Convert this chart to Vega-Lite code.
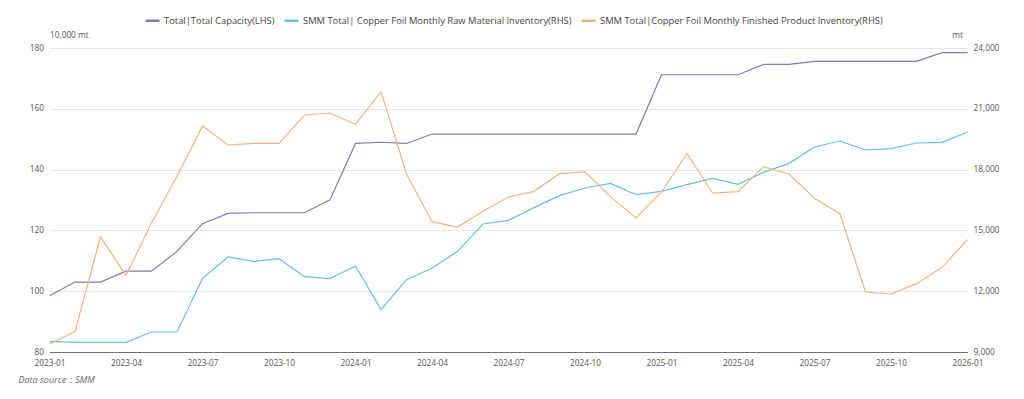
{
  "$schema": "https://vega.github.io/schema/vega-lite/v6.json",
  "autosize": {"type": "none"},
  "width": 918,
  "height": 304,
  "padding": {"left": 49.5, "top": 48, "right": 56.5, "bottom": 47},
  "background": "white",
  "title": {"text": "Data source：SMM", "orient": "bottom", "anchor": "start", "frame": "group", "dx": -31, "offset": 10, "fontSize": 9, "font": "Open Sans", "fontStyle": "italic", "fontWeight": "normal", "color": "#666666"},
  "config": {
    "view": {"stroke": null},
    "font": "Open Sans",
    "axis": {"labelFont": "Open Sans", "labelFontSize": 8.3, "labelColor": "#555555", "titleFont": "Open Sans", "titleFontSize": 8.3, "titleFontWeight": "normal", "titleColor": "#555555"},
    "legend": {"labelFont": "Open Sans", "labelFontSize": 9.4, "labelColor": "#444444", "labelLimit": 1000}
  },
  "data": {"values": [
    {"m":"2023-01","cap":98.5,"raw":9527,"fin":9395},
    {"m":"2023-02","cap":103.0,"raw":9477,"fin":10004},
    {"m":"2023-03","cap":103.0,"raw":9477,"fin":14675},
    {"m":"2023-04","cap":106.6,"raw":9477,"fin":12783},
    {"m":"2023-05","cap":106.6,"raw":9987,"fin":15365},
    {"m":"2023-06","cap":113.1,"raw":9987,"fin":17668},
    {"m":"2023-07","cap":122.2,"raw":12635,"fin":20151},
    {"m":"2023-08","cap":125.6,"raw":13688,"fin":19214},
    {"m":"2023-09","cap":125.8,"raw":13474,"fin":19296},
    {"m":"2023-10","cap":125.8,"raw":13605,"fin":19296},
    {"m":"2023-11","cap":125.8,"raw":12717,"fin":20694},
    {"m":"2023-12","cap":130.1,"raw":12619,"fin":20793},
    {"m":"2024-01","cap":148.6,"raw":13244,"fin":20234},
    {"m":"2024-02","cap":149.0,"raw":11089,"fin":21845},
    {"m":"2024-03","cap":148.6,"raw":12569,"fin":17783},
    {"m":"2024-04","cap":151.7,"raw":13129,"fin":15431},
    {"m":"2024-05","cap":151.7,"raw":13967,"fin":15168},
    {"m":"2024-06","cap":151.7,"raw":15316,"fin":15941},
    {"m":"2024-07","cap":151.7,"raw":15497,"fin":16648},
    {"m":"2024-08","cap":151.7,"raw":16122,"fin":16928},
    {"m":"2024-09","cap":151.7,"raw":16714,"fin":17799},
    {"m":"2024-10","cap":151.7,"raw":17092,"fin":17882},
    {"m":"2024-11","cap":151.7,"raw":17322,"fin":16665},
    {"m":"2024-12","cap":151.7,"raw":16763,"fin":15612},
    {"m":"2025-01","cap":171.2,"raw":16928,"fin":16895},
    {"m":"2025-02","cap":171.2,"raw":17257,"fin":18786},
    {"m":"2025-03","cap":171.2,"raw":17569,"fin":16846},
    {"m":"2025-04","cap":171.2,"raw":17273,"fin":16911},
    {"m":"2025-05","cap":174.6,"raw":17865,"fin":18145},
    {"m":"2025-06","cap":174.6,"raw":18309,"fin":17783},
    {"m":"2025-07","cap":175.6,"raw":19115,"fin":16582},
    {"m":"2025-08","cap":175.6,"raw":19411,"fin":15809},
    {"m":"2025-09","cap":175.6,"raw":18967,"fin":11961},
    {"m":"2025-10","cap":175.6,"raw":19033,"fin":11862},
    {"m":"2025-11","cap":175.6,"raw":19313,"fin":12372},
    {"m":"2025-12","cap":178.5,"raw":19346,"fin":13178},
    {"m":"2026-01","cap":178.5,"raw":19855,"fin":14543}
  ]},
  "encoding": {
    "x": {"field": "m", "type": "ordinal", "scale": {"type": "point", "padding": 0},
      "axis": {"title": null, "labelAngle": 0, "ticks": false, "domainColor": "#6e7079", "domainWidth": 1, "labelPadding": 6,
        "values": ["2023-01","2023-04","2023-07","2023-10","2024-01","2024-04","2024-07","2024-10","2025-01","2025-04","2025-07","2025-10","2026-01"],
        "encode": {"labels": {"update": {"align": {"signal": "datum.value === '2023-01' ? 'left' : datum.value === '2026-01' ? 'right' : 'center'"}}}}}}
  },
  "layer": [
    {
      "mark": {"type": "line", "strokeWidth": 1.2},
      "encoding": {
        "y": {"field": "cap", "type": "quantitative", "scale": {"domain": [80, 180], "nice": false, "zero": false},
          "axis": {"title": "10,000 mt", "orient": "left", "values": [80,100,120,140,160,180], "ticks": false, "domain": false, "labelPadding": 6, "gridColor": "#e6e6e6", "grid": true,
            "titleAngle": 0, "titleAlign": "left", "titleBaseline": "bottom", "titleX": 0, "titleY": -9}},
        "color": {"datum": "Total|Total Capacity(LHS)", "type": "nominal",
          "scale": {"domain": ["Total|Total Capacity(LHS)", "SMM Total| Copper Foil Monthly Raw Material Inventory(RHS)", "SMM Total|Copper Foil Monthly Finished Product Inventory(RHS)"], "range": ["#7b7eb6", "#62c4d4", "#f5b27c"]},
          "legend": {"title": null, "orient": "none", "direction": "horizontal", "legendX": 94.5, "legendY": -36, "symbolType": "stroke", "symbolStrokeWidth": 2.5, "symbolSize": 196, "columnPadding": 4, "labelOffset": 3}}
      }
    },
    {
      "layer": [
        {
          "mark": {"type": "line", "strokeWidth": 1.2},
          "encoding": {
            "y": {"field": "raw", "type": "quantitative", "scale": {"domain": [9000, 24000], "nice": false, "zero": false},
              "axis": {"title": "mt", "orient": "right", "values": [9000,12000,15000,18000,21000,24000], "ticks": false, "domain": false, "grid": false, "labelPadding": 5.5,
                "titleAngle": 0, "titleAlign": "right", "titleBaseline": "bottom", "titleX": -5, "titleY": -9}},
            "color": {"datum": "SMM Total| Copper Foil Monthly Raw Material Inventory(RHS)", "type": "nominal"}
          }
        },
        {
          "mark": {"type": "line", "strokeWidth": 1.2},
          "encoding": {
            "y": {"field": "fin", "type": "quantitative"},
            "color": {"datum": "SMM Total|Copper Foil Monthly Finished Product Inventory(RHS)", "type": "nominal"}
          }
        }
      ]
    }
  ],
  "resolve": {"scale": {"y": "independent"}}
}
